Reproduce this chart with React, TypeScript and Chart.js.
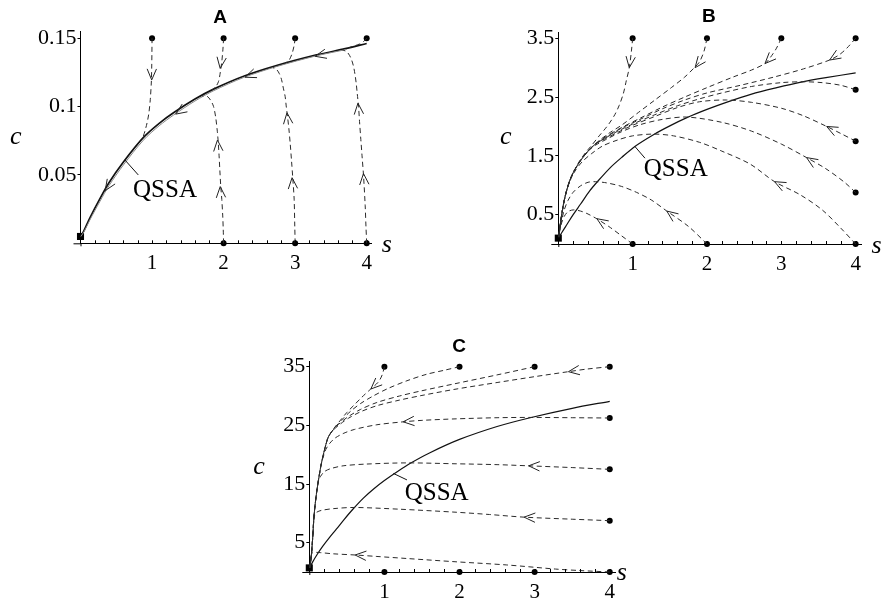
import React, { useEffect, useRef } from "react";
import { Chart, registerables } from "chart.js";
Chart.register(...registerables);

type P = [number, number];
type Arrow = [number, number, number, number]; // tip s, tip c, tail s, tail c

const X_TICK_LABELS = [1, 2, 3, 4];
const X_TICK_VALUES = [0, 0.2, 0.4, 0.6, 0.8, 1, 1.2, 1.4, 1.6, 1.8, 2, 2.2, 2.4, 2.6, 2.8, 3, 3.2, 3.4, 3.6, 3.8, 4];

// ---------------- Panel A ----------------
const A_Y_TICKS = [0.05, 0.1, 0.15];
const A_Y_LABELS = ["0.05", "0.1", "0.15"];
const A_QSSA: P[] = [[0.005, 0.005], [0.05, 0.0095], [0.13, 0.0185], [0.27, 0.0325], [0.4, 0.0445], [0.6, 0.0595], [0.88, 0.0775], [1.1, 0.0878], [1.3, 0.0955], [1.6, 0.1055], [1.86, 0.1128], [2.28, 0.1222], [2.74, 0.13], [3.3, 0.1378], [3.7, 0.1424], [4.0, 0.1462]];
const A_SLOW: P[] = [[3.72, 0.1418], [3.3, 0.1372], [2.74, 0.1293], [2.28, 0.1213], [1.86, 0.1116], [1.6, 0.1041], [1.3, 0.0938], [1.1, 0.086], [0.88, 0.0755], [0.6, 0.0573], [0.4, 0.0423], [0.27, 0.0305], [0.13, 0.017], [0.05, 0.0085], [0.005, 0.005]];
const A_T1: P[] = [[1, 0.15], [0.998, 0.139], [0.995, 0.128], [0.99, 0.118], [0.975, 0.105], [0.955, 0.095], [0.93, 0.088], [0.9, 0.082], [0.87, 0.077]];
const A_T2: P[] = [[2, 0.15], [1.99, 0.1415], [1.975, 0.133], [1.955, 0.1255], [1.93, 0.1185], [1.89, 0.1145], [1.84, 0.1122]];
const A_T3: P[] = [[3, 0.15], [2.985, 0.1445], [2.955, 0.1385], [2.91, 0.1335], [2.86, 0.1318]];
const A_T4: P[] = [[4, 0.15], [3.96, 0.1478], [3.9, 0.1458], [3.82, 0.1443], [3.76, 0.1433]];
const A_T5: P[] = [[2, 0], [1.995, 0.01], [1.988, 0.02], [1.975, 0.032], [1.96, 0.042], [1.948, 0.053], [1.937, 0.064], [1.925, 0.074], [1.912, 0.082], [1.89, 0.092], [1.86, 0.1], [1.82, 0.1045], [1.77, 0.1075], [1.7, 0.1078]];
const A_T6: P[] = [[3, 0], [2.995, 0.012], [2.986, 0.0323], [2.968, 0.0469], [2.95, 0.06], [2.93, 0.0736], [2.912, 0.084], [2.893, 0.093], [2.875, 0.1005], [2.86, 0.1075], [2.835, 0.1135], [2.81, 0.1197], [2.78, 0.124], [2.74, 0.1272], [2.69, 0.1285]];
const A_T7: P[] = [[4, 0], [3.99, 0.012], [3.979, 0.0274], [3.956, 0.0493], [3.935, 0.064], [3.918, 0.076], [3.9, 0.089], [3.886, 0.1003], [3.868, 0.1095], [3.853, 0.1173], [3.835, 0.124], [3.816, 0.1294], [3.79, 0.134], [3.76, 0.1375], [3.72, 0.1402], [3.66, 0.1415]];
const A_ARROWS: Arrow[] = [
  [0.995, 0.1195, 0.998, 0.134], [1.952, 0.128, 1.978, 0.138],
  [1.914, 0.0755, 1.93, 0.065], [1.953, 0.0415, 1.966, 0.031],
  [2.886, 0.0955, 2.905, 0.086], [2.957, 0.048, 2.972, 0.038],
  [3.878, 0.1025, 3.895, 0.092], [3.955, 0.051, 3.97, 0.041],
  [3.28, 0.1368, 3.5, 0.1395], [2.3, 0.1215, 2.5, 0.1255], [1.33, 0.0945, 1.5, 0.1005], [0.345, 0.0385, 0.45, 0.047],
];
const A_DOTS: P[] = [[1, 0.15], [2, 0.15], [3, 0.15], [4, 0.15], [2, 0], [3, 0], [4, 0]];
const A_SQUARE: P[] = [[0, 0.005]];

// ---------------- Panel B ----------------
const B_Y_TICKS = [0.5, 1.5, 2.5, 3.5];
const B_Y_LABELS = ["0.5", "1.5", "2.5", "3.5"];
const B_QSSA: P[] = [[0.005, 0.1], [0.05, 0.2], [0.12, 0.34], [0.2, 0.5], [0.3, 0.68], [0.42, 0.9], [0.54, 1.08], [0.7, 1.3], [0.85, 1.47], [1.03, 1.66], [1.28, 1.86], [1.5, 2.01], [1.73, 2.15], [2.0, 2.29], [2.26, 2.41], [2.6, 2.55], [2.94, 2.66], [3.25, 2.75], [3.6, 2.83], [4.0, 2.91]];
const B_ENV: P[] = [[0.63, 1.84], [0.5, 1.7], [0.4, 1.58], [0.3, 1.42], [0.22, 1.26], [0.16, 1.1], [0.11, 0.9], [0.07, 0.68], [0.04, 0.45], [0.02, 0.27], [0.005, 0.12]];
const B_T1: P[] = [[1, 3.5], [0.985, 3.3], [0.955, 3.0], [0.915, 2.78], [0.875, 2.56], [0.82, 2.36], [0.76, 2.2], [0.69, 2.06], [0.63, 1.96], [0.55, 1.84], [0.45, 1.68], [0.37, 1.56], [0.29, 1.42], ...B_ENV.slice(4)];
const B_T2: P[] = [[2, 3.5], [1.96, 3.28], [1.9, 3.1], [1.83, 3.0], [1.7, 2.84], [1.52, 2.66], [1.3, 2.45], [1.08, 2.24], [0.85, 2.02], [0.7, 1.9], [0.55, 1.76], [0.45, 1.65], [0.36, 1.53], [0.3, 1.43], ...B_ENV.slice(4)];
const B_T3: P[] = [[3, 3.5], [2.93, 3.32], [2.85, 3.17], [2.78, 3.07], [2.6, 2.96], [2.35, 2.84], [2.0, 2.66], [1.7, 2.5], [1.4, 2.33], [1.1, 2.14], [0.85, 1.98], [0.63, 1.82], ...B_ENV.slice(1)];
const B_T4: P[] = [[4, 3.5], [3.88, 3.33], [3.78, 3.22], [3.65, 3.13], [3.3, 2.98], [2.9, 2.84], [2.45, 2.7], [2.0, 2.57], [1.7, 2.45], [1.4, 2.3], [1.1, 2.12], [0.85, 1.97], [0.63, 1.81], ...B_ENV.slice(1)];
const B_T5: P[] = [[4, 2.625], [3.8, 2.7], [3.55, 2.745], [3.3, 2.76], [3.0, 2.745], [2.6, 2.68], [2.2, 2.57], [1.9, 2.47], [1.6, 2.35], [1.3, 2.2], [1.0, 2.04], [0.8, 1.92], [0.63, 1.8], ...B_ENV.slice(1)];
const B_T6: P[] = [[4, 1.75], [3.8, 1.88], [3.61, 2.0], [3.3, 2.18], [3.0, 2.31], [2.6, 2.41], [2.26, 2.45], [1.9, 2.42], [1.6, 2.32], [1.3, 2.17], [1.0, 2.02], [0.8, 1.9], [0.63, 1.79], ...B_ENV.slice(1)];
const B_T7: P[] = [[4, 0.875], [3.85, 1.05], [3.6, 1.28], [3.34, 1.47], [3.0, 1.7], [2.6, 1.92], [2.2, 2.07], [1.73, 2.16], [1.4, 2.12], [1.1, 2.03], [0.85, 1.91], [0.63, 1.77], [0.5, 1.68], ...B_ENV.slice(2)];
const B_T8: P[] = [[4, 0], [3.8, 0.27], [3.55, 0.58], [3.25, 0.84], [2.91, 1.06], [2.58, 1.36], [2.2, 1.58], [1.9, 1.73], [1.55, 1.84], [1.28, 1.87], [1.0, 1.84], [0.8, 1.77], [0.6, 1.67], [0.45, 1.54], [0.33, 1.41], [0.24, 1.27], [0.17, 1.11], ...B_ENV.slice(6)];
const B_T9: P[] = [[2, 0], [1.75, 0.3], [1.46, 0.56], [1.25, 0.75], [1.05, 0.88], [0.85, 0.98], [0.65, 1.04], [0.5, 1.06], [0.4, 1.05], [0.3, 0.99], [0.2, 0.88], [0.13, 0.74], [0.08, 0.58], [0.045, 0.4], [0.02, 0.24], [0.005, 0.12]];
const B_T10: P[] = [[1, 0], [0.85, 0.14], [0.7, 0.28], [0.53, 0.42], [0.4, 0.51], [0.3, 0.56], [0.2, 0.58], [0.13, 0.55], [0.08, 0.47], [0.045, 0.36], [0.02, 0.23], [0.005, 0.12]];
const B_ARROWS: Arrow[] = [
  [0.955, 3.0, 0.975, 3.2], [1.84, 3.0, 1.92, 3.13], [2.78, 3.07, 2.88, 3.2], [3.65, 3.13, 3.8, 3.25],
  [3.61, 2.0, 3.78, 1.89], [3.34, 1.47, 3.5, 1.34], [2.91, 1.06, 3.08, 0.95], [1.46, 0.56, 1.6, 0.43], [0.52, 0.43, 0.64, 0.33],
];
const B_DOTS: P[] = [[1, 3.5], [2, 3.5], [3, 3.5], [4, 3.5], [4, 2.625], [4, 1.75], [4, 0.875], [4, 0], [2, 0], [1, 0]];
const B_SQUARE: P[] = [[0, 0.1]];

// ---------------- Panel C ----------------
const C_Y_TICKS = [5, 15, 25, 35];
const C_Y_LABELS = ["5", "15", "25", "35"];
const C_QSSA: P[] = [[0.005, 0.7], [0.04, 1.6], [0.1, 2.9], [0.18, 4.4], [0.27, 5.9], [0.36, 7.3], [0.46, 8.9], [0.58, 10.7], [0.72, 12.6], [0.86, 14.2], [1.0, 15.6], [1.17, 17.1], [1.34, 18.5], [1.6, 20.3], [2.0, 22.6], [2.5, 24.8], [2.94, 26.3], [3.5, 27.9], [4.0, 29.1]];
const C_ENV: P[] = [[0.32, 24.3], [0.253, 23.0], [0.21, 21.2], [0.164, 18.7], [0.13, 16.3], [0.1, 13.8], [0.076, 11.3], [0.06, 9.0], [0.044, 5.6], [0.03, 3.3], [0.018, 1.8], [0.005, 0.7]];
const C_T1: P[] = [[1, 35], [0.97, 33.6], [0.92, 32.4], [0.81, 31.1], [0.7, 29.8], [0.6, 28.5], [0.5, 27.2], [0.41, 25.8], [0.32, 24.35], ...C_ENV.slice(1)];
const C_T2: P[] = [[2, 35], [1.8, 34.4], [1.56, 33.7], [1.3, 32.6], [1.05, 31.3], [0.85, 30.0], [0.68, 28.7], [0.55, 27.4], [0.43, 25.9], [0.32, 24.3], ...C_ENV.slice(1)];
const C_T3: P[] = [[3, 35], [2.5, 33.6], [1.94, 32.1], [1.5, 30.9], [1.2, 30.0], [0.9, 28.9], [0.68, 27.7], [0.52, 26.5], [0.41, 25.4], [0.32, 24.25], ...C_ENV.slice(1)];
const C_T4: P[] = [[4, 35], [3.7, 34.6], [3.45, 34.15], [3.0, 33.3], [2.5, 32.3], [1.94, 31.15], [1.5, 30.1], [1.2, 29.3], [0.9, 28.35], [0.68, 27.3], [0.52, 26.2], [0.41, 25.2], [0.32, 24.2], ...C_ENV.slice(1)];
const C_T5: P[] = [[4, 26.25], [3.5, 26.3], [2.94, 26.35], [2.5, 26.3], [1.94, 26.1], [1.5, 25.85], [1.25, 25.6], [0.9, 25.1], [0.6, 24.3], [0.45, 23.6], [0.34, 22.8], [0.27, 21.9], [0.22, 20.9], [0.19, 19.8], ...C_ENV.slice(3)];
const C_T6: P[] = [[4, 17.5], [3.5, 17.8], [2.92, 18.1], [2.5, 18.3], [1.94, 18.45], [1.3, 18.6], [0.76, 18.4], [0.45, 18.1], [0.28, 17.6], [0.2, 17.1], [0.15, 16.3], [0.125, 15.6], ...C_ENV.slice(5)];
const C_T7: P[] = [[4, 8.75], [3.5, 9.0], [2.86, 9.35], [2.4, 9.8], [1.94, 10.2], [1.21, 10.7], [0.6, 11.0], [0.32, 10.8], [0.16, 10.5], [0.1, 10.2], [0.075, 9.8], ...C_ENV.slice(7)];
const C_T8: P[] = [[4, 0], [3.6, 0.25], [3.28, 0.5], [2.63, 1.2], [1.94, 1.75], [1.3, 2.3], [0.9, 2.65], [0.61, 2.9], [0.32, 3.1], [0.15, 3.3], [0.06, 3.35], [0.035, 3.2], [0.025, 2.6], [0.015, 1.7], [0.005, 0.7]];
const C_ARROWS: Arrow[] = [
  [0.82, 31.2, 0.92, 32.4], [3.45, 34.15, 3.7, 34.6], [1.25, 25.6, 1.5, 25.85],
  [2.92, 18.1, 3.2, 17.95], [2.86, 9.35, 3.2, 9.15], [0.61, 2.9, 0.9, 2.65],
];
const C_DOTS: P[] = [[1, 35], [2, 35], [3, 35], [4, 35], [4, 26.25], [4, 17.5], [4, 8.75], [4, 0], [3, 0], [2, 0], [1, 0]];
const C_SQUARE: P[] = [[0, 0.7]];

// ---------------- layout / style ----------------
const W = 883;
const H = 600;
const SERIF = "'Liberation Serif', 'Times New Roman', serif";
const SANS = "'Liberation Sans', Arial, sans-serif";

interface Panel {
  title: string;
  xMax: number; yMax: number;
  yTicks: number[]; yLabels: string[];
  qssa: P[]; qssaWidth: number; slow?: P[];
  trajs: P[][]; arrows: Arrow[]; dots: P[]; square: P[];
  qssaText: P; leader: [P, P];
  area: { left: number; top: number; right: number; bottom: number };
  titleOff: [number, number]; cOff: [number, number]; sOff: [number, number];
}

const PANELS: Panel[] = [
  {
    title: "A", xMax: 4.07, yMax: 0.1548, yTicks: A_Y_TICKS, yLabels: A_Y_LABELS,
    qssa: A_QSSA, qssaWidth: 1.7, slow: A_SLOW,
    trajs: [A_T1, A_T2, A_T3, A_T4, A_T5, A_T6, A_T7], arrows: A_ARROWS, dots: A_DOTS, square: A_SQUARE,
    qssaText: [0.734, 0.0342], leader: [[0.62, 0.061], [0.808, 0.05]],
    area: { left: 80.5, top: 31.7, right: 371.7, bottom: 243.3 },
    titleOff: [-6, -8.4], cOff: [-70.5, 111.8], sOff: [10, 9],
  },
  {
    title: "B", xMax: 4.08, yMax: 3.6, yTicks: B_Y_TICKS, yLabels: B_Y_LABELS,
    qssa: B_QSSA, qssaWidth: 1.2,
    trajs: [B_T1, B_T2, B_T3, B_T4, B_T5, B_T6, B_T7, B_T8, B_T9, B_T10], arrows: B_ARROWS, dots: B_DOTS, square: B_SQUARE,
    qssaText: [1.15, 1.15], leader: [[1.03, 1.66], [1.166, 1.46]],
    area: { left: 558.3, top: 32.4, right: 861.6, bottom: 244 },
    titleOff: [-1, -10.3], cOff: [-58.3, 111.3], sOff: [10, 9],
  },
  {
    title: "C", xMax: 4.07, yMax: 35.85, yTicks: C_Y_TICKS, yLabels: C_Y_LABELS,
    qssa: C_QSSA, qssaWidth: 1.2,
    trajs: [C_T1, C_T2, C_T3, C_T4, C_T5, C_T6, C_T7, C_T8], arrows: C_ARROWS, dots: C_DOTS, square: C_SQUARE,
    qssaText: [1.27, 12.3], leader: [[1.12, 16.8], [1.3, 15.7]],
    area: { left: 309.3, top: 361.7, right: 615, bottom: 572 },
    titleOff: [-3, -10], cOff: [-56, 111.8], sOff: [1.7, 8],
  },
];

const xy = (pts: P[]) => pts.map(([x, y]) => ({ x, y }));

function annotPlugin(p: Panel) {
  return {
    id: "annot",
    afterDatasetsDraw(chart: any) {
      const { ctx, chartArea: a } = chart;
      const xs = chart.scales.x;
      const ys = chart.scales.y;
      const px = (v: number) => xs.getPixelForValue(v);
      const py = (v: number) => ys.getPixelForValue(v);
      ctx.save();
      ctx.strokeStyle = "#000";
      ctx.lineWidth = 1;
      // small axis overhangs at the origin
      ctx.beginPath();
      ctx.moveTo(a.left - 7, a.bottom + 0.5);
      ctx.lineTo(a.left, a.bottom + 0.5);
      ctx.moveTo(a.left + 0.5, a.bottom);
      ctx.lineTo(a.left + 0.5, a.bottom + 3);
      ctx.stroke();
      // inner x tick marks
      X_TICK_VALUES.forEach((v) => {
        if (v === 0) return;
        const x = Math.round(px(v)) + 0.5;
        ctx.beginPath();
        ctx.moveTo(x, a.bottom);
        ctx.lineTo(x, a.bottom - 3);
        ctx.stroke();
      });
      // arrow heads
      ctx.strokeStyle = "#222";
      for (const [ts, tc, fs, fc] of p.arrows) {
        const tx = px(ts), ty = py(tc), fx = px(fs), fy = py(fc);
        const base = Math.atan2(ty - fy, tx - fx) + Math.PI;
        for (const sgn of [1, -1]) {
          const ang = base + sgn * 0.4;
          ctx.beginPath();
          ctx.moveTo(tx, ty);
          ctx.lineTo(tx + 12 * Math.cos(ang), ty + 12 * Math.sin(ang));
          ctx.stroke();
        }
      }
      // QSSA leader and label
      ctx.strokeStyle = "#111";
      ctx.beginPath();
      ctx.moveTo(px(p.leader[0][0]), py(p.leader[0][1]));
      ctx.lineTo(px(p.leader[1][0]), py(p.leader[1][1]));
      ctx.stroke();
      ctx.fillStyle = "#000";
      ctx.textAlign = "left";
      ctx.textBaseline = "alphabetic";
      ctx.font = `25px ${SERIF}`;
      ctx.fillText("QSSA", px(p.qssaText[0]), py(p.qssaText[1]));
      // axis names
      ctx.font = `italic 26px ${SERIF}`;
      ctx.fillText("c", a.left + p.cOff[0], a.top + p.cOff[1]);
      ctx.fillText("s", a.right + p.sOff[0], a.bottom + p.sOff[1]);
      // panel title
      ctx.font = `bold 19px ${SANS}`;
      ctx.textAlign = "center";
      ctx.fillText(p.title, (a.left + a.right) / 2 + p.titleOff[0], a.top + p.titleOff[1]);
      ctx.restore();
    },
  };
}

function buildConfig(p: Panel): any {
  const yAxisW = 60;
  const xAxisH = 28;
  const padding = {
    left: p.area.left - yAxisW,
    top: p.area.top,
    right: W - p.area.right,
    bottom: Math.max(0, H - p.area.bottom - xAxisH),
  };
  const datasets: any[] = [];
  p.trajs.forEach((t) => {
    datasets.push({
      data: xy(t), showLine: true, borderColor: "#2a2a2a", borderWidth: 1,
      borderDash: [5, 3.5], pointRadius: 0, tension: 0.3, clip: false, fill: false,
    });
  });
  if (p.slow) {
    datasets.push({
      data: xy(p.slow), showLine: true, borderColor: "#888", borderWidth: 1,
      pointRadius: 0, tension: 0.3, clip: false, fill: false,
    });
  }
  datasets.push({
    data: xy(p.qssa), showLine: true, borderColor: "#111", borderWidth: p.qssaWidth,
    pointRadius: 0, tension: 0.3, clip: false, fill: false,
  });
  datasets.push({
    data: xy(p.dots), showLine: false, pointRadius: 3, pointStyle: "circle",
    pointBackgroundColor: "#000", pointBorderColor: "#000", pointBorderWidth: 0, clip: false,
  });
  datasets.push({
    data: xy(p.square), showLine: false, pointRadius: 5, pointStyle: "rect",
    pointBackgroundColor: "#000", pointBorderColor: "#000", pointBorderWidth: 0, clip: false,
  });

  return {
    type: "scatter",
    data: { datasets },
    options: {
      responsive: false,
      animation: false,
      devicePixelRatio: 1,
      events: [],
      layout: { padding },
      plugins: { legend: { display: false }, tooltip: { enabled: false }, title: { display: false } },
      scales: {
        x: {
          type: "linear", position: "bottom", min: 0, max: p.xMax,
          afterBuildTicks: (s: any) => { s.ticks = X_TICK_VALUES.map((v) => ({ value: v })); },
          afterFit: (s: any) => { s.height = xAxisH; },
          ticks: {
            autoSkip: false, maxRotation: 0, minRotation: 0, padding: 8,
            font: { family: SERIF, size: 21 }, color: "#000",
            callback: (v: any) => (X_TICK_LABELS.includes(v) ? String(v) : ""),
          },
          grid: { display: true, drawOnChartArea: false, drawTicks: false, color: "#000" },
          border: { display: true, color: "#000", width: 1 },
        },
        y: {
          type: "linear", position: "left", min: 0, max: p.yMax,
          afterBuildTicks: (s: any) => { s.ticks = p.yTicks.map((v) => ({ value: v })); },
          afterFit: (s: any) => { s.width = yAxisW; },
          ticks: {
            padding: 1, font: { family: SERIF, size: 22 }, color: "#000",
            callback: (v: any) => { const i = p.yTicks.indexOf(v); return i >= 0 ? p.yLabels[i] : ""; },
          },
          grid: { display: true, drawOnChartArea: false, drawTicks: true, tickLength: 3, color: "#000" },
          border: { display: true, color: "#000", width: 1 },
        },
      },
    },
    plugins: [annotPlugin(p)],
  };
}

function PanelChart({ panel }: { panel: Panel }) {
  const ref = useRef<HTMLCanvasElement>(null);
  useEffect(() => {
    if (!ref.current) return;
    const chart = new Chart(ref.current, buildConfig(panel));
    return () => chart.destroy();
  }, [panel]);
  return (
    <canvas
      ref={ref}
      width={W}
      height={H}
      style={{ position: "absolute", left: 0, top: 0, width: W, height: H }}
    />
  );
}

export default function App() {
  useEffect(() => {
    document.body.style.margin = "0";
  }, []);
  return (
    <div style={{ position: "fixed", left: 0, top: 0, width: W, height: H, background: "#fff" }}>
      {PANELS.map((p) => (
        <PanelChart key={p.title} panel={p} />
      ))}
    </div>
  );
}
